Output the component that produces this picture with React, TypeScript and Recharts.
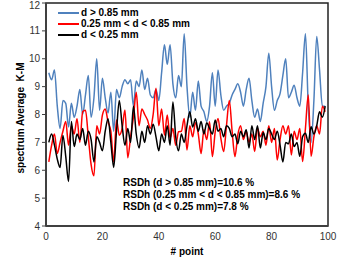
import React from 'react';
import { LineChart, Line, XAxis, YAxis, ReferenceArea } from 'recharts';

const xTicks = [0, 20, 40, 60, 80, 100];
const yTicks = [4, 5, 6, 7, 8, 9, 10, 11, 12];

const seriesNames = ['d > 0.85 mm', '0.25 mm < d < 0.85 mm', 'd < 0.25 mm'];
const seriesColors = ['#4F81BD', '#FF0000', '#000000'];

const coarse = [
  9.5, 9.25, 9.6, 8.3, 7.5, 8.5, 8.4, 7.55, 8.4, 7.9,
  8.3, 8.9, 8.0, 8.7, 9.4, 7.9, 8.6, 10.0, 8.15, 9.3,
  8.6, 8.05, 8.8, 7.4, 8.9, 8.6, 9.0, 9.25, 9.1, 9.25,
  8.3, 9.2, 9.0, 9.6, 8.9, 9.3, 8.7, 8.6, 8.9, 8.5,
  9.5, 10.5, 9.8, 10.5, 9.1, 8.6, 9.4, 9.0, 10.9, 9.0,
  7.9, 8.8, 8.15, 9.2, 8.3, 8.1, 7.75, 8.3, 9.5, 8.3,
  9.6, 8.7, 8.15, 8.3, 8.4, 8.7, 8.9, 9.1, 8.8, 8.3,
  8.9, 9.3, 8.5, 7.9, 8.2, 7.75, 8.4, 9.0, 10.2, 9.0,
  8.15, 8.5, 8.75, 9.4, 10.0, 8.6, 8.8, 9.05, 8.6, 8.3,
  9.5, 10.9, 8.3, 7.0, 8.5, 10.8, 9.6, 8.3, 8.3,
];

const medium = [
  6.3, 6.9, 7.3, 6.6, 7.0, 7.4, 7.75, 6.9, 7.6, 7.3,
  7.85, 7.0, 8.1, 8.15, 7.2, 6.2, 5.8, 7.6, 7.3, 7.98,
  8.2, 7.74, 7.4, 6.3, 7.8, 7.26, 7.5, 8.16, 6.45, 7.2,
  7.9, 8.8, 7.6, 8.2, 8.0, 7.8, 7.5, 8.0, 8.94, 7.6,
  8.2, 7.26, 7.98, 7.15, 7.5, 6.9, 7.38, 7.4, 7.86, 6.73,
  7.6, 7.2, 7.7, 7.3, 6.6, 7.45, 7.1, 7.74, 6.49, 7.38,
  7.86, 7.15, 6.67, 7.6, 8.5, 7.4, 6.49, 7.26, 7.6, 7.1,
  7.4, 7.0, 7.3, 6.67, 7.5, 7.2, 7.4, 6.9, 7.6, 7.0,
  7.5, 6.37, 7.1, 7.6, 7.3, 7.6, 6.55, 7.4, 7.1, 7.5,
  6.31, 7.5, 8.7, 6.5, 7.2, 7.6, 7.3, 8.3, 8.1,
];

const fine = [
  7.0, 7.3, 6.9, 6.4, 6.1, 7.25, 6.5, 5.6, 7.75, 6.85,
  7.3, 7.1, 7.5, 6.9, 7.4, 7.1, 6.3, 7.2, 7.0, 6.7,
  7.4, 7.85, 7.0, 6.1, 7.4, 8.5, 7.6, 6.9, 7.5, 7.0,
  8.3, 7.3, 6.8, 7.4, 7.0, 7.6, 7.3, 7.65, 7.2, 6.7,
  7.3, 7.0, 7.6, 6.9, 8.45, 7.2, 6.7, 7.3, 7.0, 7.6,
  8.1, 7.55, 7.85, 7.4, 7.75, 7.3, 7.7, 7.5, 7.3, 7.8,
  7.4, 7.5, 7.2, 7.6, 7.5, 7.2, 7.3, 6.95, 7.4, 7.2,
  7.45, 6.8, 7.6, 7.1, 7.6, 6.8, 7.35, 7.1, 7.5, 7.3,
  7.1, 7.4, 6.9, 6.3, 7.0, 6.95, 7.3, 6.85, 7.0, 6.5,
  7.2, 7.33, 7.0, 7.56, 7.3, 7.6, 8.1, 7.9, 8.3,
];

const rsdLines = [
  'RSDh (d > 0.85 mm)=10.6 %',
  'RSDh (0.25 mm < d < 0.85 mm)=8.6 %',
  'RSDh (d < 0.25 mm)=7.8 %',
];

const data = coarse.map((v, i) => ({ x: i + 1, coarse: v, medium: medium[i], fine: fine[i] }));

const font = '"Liberation Sans", Arial, sans-serif';

export default function App() {
  return (
    <div style={{ position: 'absolute', left: 0, top: 0, width: 340, height: 257, background: '#fff', fontFamily: font }}>
      <LineChart width={340} height={257} data={data} margin={{ top: 3, right: 12, bottom: 0, left: 0 }}>
        <XAxis
          type="number"
          dataKey="x"
          domain={[0, 100]}
          ticks={xTicks}
          height={31}
          tickSize={0}
          tickMargin={7}
          axisLine={{ stroke: '#404040', strokeWidth: 2 }}
          tick={{ fontSize: 10, fill: '#333', fontFamily: font }}
        />
        <YAxis
          type="number"
          domain={[4, 12]}
          ticks={yTicks}
          width={46}
          tickSize={4}
          tickMargin={2}
          axisLine={{ stroke: '#404040', strokeWidth: 2 }}
          tickLine={{ stroke: '#404040' }}
          tick={{ fontSize: 10, fill: '#333', fontFamily: font }}
        />
        <ReferenceArea x1={0} x2={100} y1={4} y2={12} fill="none" stroke="#222" strokeWidth={1.5} ifOverflow="visible" />
        <Line type="monotone" dataKey="coarse" name={seriesNames[0]} stroke={seriesColors[0]} strokeWidth={1.5} dot={false} isAnimationActive={false} />
        <Line type="monotone" dataKey="medium" name={seriesNames[1]} stroke={seriesColors[1]} strokeWidth={1.5} dot={false} isAnimationActive={false} />
        <Line type="monotone" dataKey="fine" name={seriesNames[2]} stroke={seriesColors[2]} strokeWidth={1.5} dot={false} isAnimationActive={false} />
      </LineChart>
      <div style={{ position: 'absolute', left: 58, top: 7, fontSize: 10, fontWeight: 'bold', color: '#000' }}>
        {seriesNames.map((n, i) => (
          <div key={n} style={{ display: 'flex', alignItems: 'center', height: 11 }}>
            <div style={{ width: 21, height: 2, background: seriesColors[i], marginRight: 2 }} />
            <span style={{ whiteSpace: 'nowrap', lineHeight: '11px' }}>{n}</span>
          </div>
        ))}
      </div>
      <div style={{ position: 'absolute', left: 123, top: 177, fontSize: 10, fontWeight: 'bold', lineHeight: '12px', color: '#000', whiteSpace: 'nowrap' }}>
        {rsdLines.map((t) => (
          <div key={t}>{t}</div>
        ))}
      </div>
      <div style={{ position: 'absolute', left: 187, top: 246, transform: 'translateX(-50%)', fontSize: 10, fontWeight: 'bold', color: '#000', whiteSpace: 'nowrap', lineHeight: '12px' }}>
        # point
      </div>
      <div style={{ position: 'absolute', left: 21, top: 118, transform: 'translate(-50%, -50%) rotate(-90deg)', fontSize: 10, fontWeight: 'bold', color: '#000', whiteSpace: 'nowrap', lineHeight: '12px' }}>
        spectrum Average&nbsp;&nbsp;K-M
      </div>
    </div>
  );
}
